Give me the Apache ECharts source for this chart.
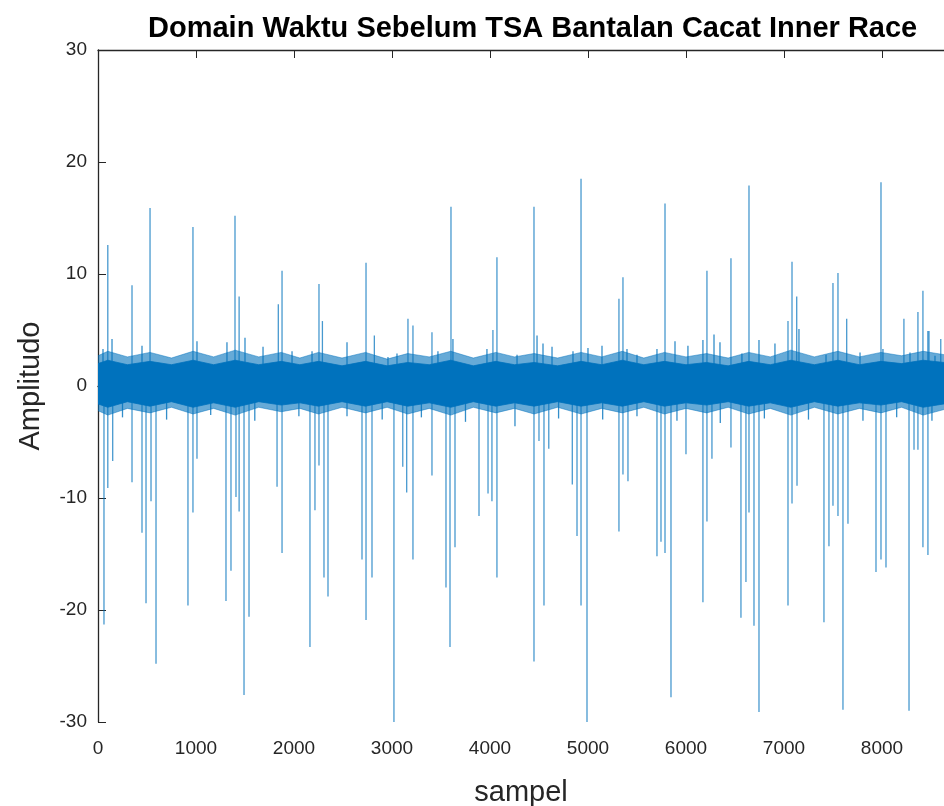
<!DOCTYPE html>
<html>
<head>
<meta charset="utf-8">
<script src="https://cdn.jsdelivr.net/npm/echarts@6/dist/echarts.min.js"></script>
<style>
    html, body { margin: 0; padding: 0; background: #fff; }
    #chart { width: 944px; height: 806px; }
</style>
</head>
<body>
<div id="chart"></div>
<script>
// tick labels
var xTicks = [0, 1000, 2000, 3000, 4000, 5000, 6000, 7000, 8000];
var yTicks = [-30, -20, -10, 0, 10, 20, 30];

// impacts going up (sample, amplitude)
var upX = [100, 347, 531, 969, 1398, 1440, 1878, 1840, 2255, 2290, 2735, 2820, 3163, 3214, 3408, 3602, 4071, 4030,
    4449, 4929, 5357, 5316, 5786, 6214, 6459, 6643, 7082, 7130, 7041, 7551, 7500, 7640, 7990, 8224, 8418, 8367, 8480, 8600];
var upY = [12.6, 9.0, 15.9, 14.2, 15.2, 8.0, 10.3, 7.3, 9.1, 5.8, 11.0, 4.5, 6.0, 5.4, 4.8, 16.0, 11.5, 5.0,
    16.0, 18.5, 9.7, 7.8, 16.3, 10.3, 11.4, 17.9, 11.1, 8.0, 5.8, 10.1, 9.2, 6.0, 18.2, 6.0, 8.5, 6.6, 4.9, 4.2];

// small bursts just above the noise band
var fuzzUpX = [51, 143, 449, 1010, 1316, 1500, 1684, 1980, 2184, 2541, 2959, 3051, 3469, 3622, 3969, 4276, 4480, 4541,
    4633, 4847, 5000, 5143, 5398, 5500, 5704, 5888, 6020, 6173, 6286, 6347, 6571, 6745, 6908, 7153, 7429, 7776, 8010,
    8286, 8469, 8541];
var fuzzUpY = [3.3, 4.2, 3.6, 4.0, 3.9, 4.3, 3.5, 3.1, 3.1, 3.9, 2.6, 2.9, 3.1, 4.2, 3.3, 2.8, 4.5, 3.8,
    3.5, 3.1, 3.4, 3.6, 3.3, 2.8, 3.3, 4.0, 3.6, 4.1, 4.6, 3.9, 2.9, 4.1, 3.8, 5.1, 2.8, 3.0, 3.3,
    3.0, 4.9, 2.7];

// impacts going down
var downX = [61, 100, 150, 347, 449, 490, 541, 592, 918, 969, 1010, 1306, 1357, 1408, 1440, 1490, 1541, 1827, 1878,
    2163, 2214, 2255, 2306, 2347, 2694, 2735, 2796, 3020, 3110, 3150, 3214, 3408, 3551, 3592, 3643, 3888, 3980, 4020,
    4071, 4449, 4500, 4551, 4600, 4840, 4888, 4929, 4990, 5316, 5357, 5408, 5704, 5745, 5786, 5847, 6000, 6173, 6214,
    6265, 6459, 6561, 6612, 6643, 6694, 6745, 7041, 7082, 7133, 7408, 7459, 7500, 7551, 7602, 7653, 7939, 7990, 8041,
    8276, 8327, 8367, 8418, 8469];
var downY = [-21.3, -9.1, -6.7, -8.6, -13.1, -19.4, -10.3, -24.8, -19.6, -11.3, -6.5, -19.2, -16.5, -9.9, -11.2, -27.6, -20.6, -9.0, -14.9,
    -23.3, -11.1, -7.1, -17.1, -18.8, -15.5, -20.9, -17.1, -31, -7.2, -9.5, -15.5, -8.0, -18.0, -23.3, -14.4, -11.6, -9.6, -10.3,
    -17.1, -24.6, -4.9, -19.6, -5.6, -8.8, -13.4, -19.6, -31, -13.0, -7.9, -8.5, -15.2, -13.9, -14.9, -27.8, -6.1, -19.3, -12.1,
    -6.5, -5.5, -20.7, -17.5, -11.3, -21.4, -29.1, -19.6, -10.5, -8.9, -21.1, -14.3, -10.7, -11.6, -28.9, -12.3, -16.6, -15.5, -16.2,
    -29.0, -5.7, -5.7, -14.4, -15.1];

// small bursts just below the noise band
var fuzzDownX = [250, 700, 1150, 1600, 2050, 2541, 2900, 3300, 3750, 4255, 4700, 5150, 5500, 5908, 6350, 6800, 7250, 7806, 8150, 8510];
var fuzzDownY = [-2.8, -3.0, -2.6, -3.1, -2.7, -2.7, -3.0, -2.8, -3.2, -3.6, -2.9, -3.0, -2.7, -3.1, -3.3, -2.9, -3.0, -3.1, -2.8, -3.1];

// noise band envelope
var envX = [0, 100, 300, 530, 750, 970, 1180, 1400, 1640, 1870, 2060, 2250, 2490, 2730, 2950, 3160, 3380, 3600, 3830, 4060,
    4250, 4450, 4690, 4930, 5140, 5350, 5570, 5780, 6000, 6210, 6430, 6640, 6860, 7070, 7310, 7550, 7770, 7990, 8200, 8420, 8633];
var outerUp = [2.7, 3.1, 2.6, 3.0, 2.5, 3.1, 2.6, 3.2, 2.6, 3.0, 2.5, 3.0, 2.5, 3.0, 2.4, 2.9, 2.6, 3.1, 2.5, 3.0,
    2.6, 2.9, 2.5, 3.0, 2.6, 3.1, 2.5, 3.0, 2.6, 2.9, 2.5, 3.0, 2.6, 3.2, 2.6, 3.1, 2.6, 3.0, 2.7, 3.1, 2.8];
var outerDown = [-2.2, -2.6, -2.0, -2.4, -1.9, -2.5, -2.0, -2.6, -1.9, -2.3, -2.0, -2.5, -1.9, -2.4, -1.9, -2.5, -2.0, -2.6, -1.9, -2.4,
    -2.0, -2.5, -1.9, -2.5, -2.0, -2.4, -1.9, -2.5, -2.0, -2.4, -1.9, -2.5, -2.0, -2.6, -1.9, -2.5, -2.0, -2.4, -1.9, -2.6, -2.1];
var coreUp = [2.0, 2.3, 1.9, 2.2, 1.9, 2.3, 1.9, 2.3, 1.9, 2.2, 1.9, 2.2, 1.8, 2.2, 1.8, 2.1, 1.9, 2.3, 1.8, 2.2,
    1.9, 2.1, 1.8, 2.2, 1.9, 2.3, 1.9, 2.2, 1.9, 2.1, 1.8, 2.2, 1.9, 2.3, 1.9, 2.3, 1.9, 2.2, 2.0, 2.3, 2.1];
var coreDown = [-1.6, -1.9, -1.4, -1.8, -1.4, -1.9, -1.5, -1.9, -1.4, -1.7, -1.5, -1.8, -1.4, -1.8, -1.4, -1.8, -1.5, -1.9, -1.4, -1.8,
    -1.5, -1.8, -1.4, -1.8, -1.5, -1.8, -1.4, -1.8, -1.5, -1.7, -1.4, -1.8, -1.5, -1.9, -1.4, -1.8, -1.5, -1.7, -1.4, -1.9, -1.6];

function pairs(xs, ys) {
    var out = [];
    for (var i = 0; i < xs.length; i++) out.push([xs[i], ys[i]]);
    return out;
}

var blue = '#0072BD';
var txt = '#262626';
var font = 'Liberation Sans, Arial, sans-serif';

var spikes = pairs(upX, upY).concat(pairs(downX, downY));
var fuzz = pairs(fuzzUpX, fuzzUpY).concat(pairs(fuzzDownX, fuzzDownY));

function band(name, xs, ys, color, op) {
    return {
        name: name,
        type: 'line',
        data: pairs(xs, ys),
        symbol: 'none',
        lineStyle: { width: 0.8, color: color, opacity: op },
        areaStyle: { color: color, opacity: op, origin: 0 },
        z: 3
    };
}

var chart = echarts.init(document.getElementById('chart'));
var option = {
    animation: false,
    backgroundColor: '#fff',
    title: {
        text: 'Domain Waktu Sebelum TSA Bantalan Cacat Inner Race',
        left: 143,
        top: 9,
        textStyle: { fontFamily: font, fontSize: 29, fontWeight: 'bold', color: '#000' }
    },
    grid: { left: 98, top: 50, right: 0, bottom: 84, outerBoundsMode: 'none', containLabel: false },
    xAxis: [{
        type: 'value',
        min: 0,
        max: 8633,
        interval: 1000,
        name: 'sampel',
        nameLocation: 'middle',
        nameGap: 56,
        nameTextStyle: { fontFamily: font, fontSize: 29, color: txt },
        axisLine: { lineStyle: { color: txt, width: 1.3 } },
        axisTick: { inside: true, length: 8, lineStyle: { color: txt } },
        axisLabel: { fontFamily: font, fontSize: 19, color: txt, margin: 17, showMaxLabel: false,
            formatter: function (v) { return xTicks.indexOf(v) >= 0 ? String(v) : ''; } },
        splitLine: { show: false }
    }, {
        type: 'value',
        position: 'top',
        min: 0,
        max: 8633,
        interval: 1000,
        axisLine: { lineStyle: { color: txt, width: 1.3 } },
        axisTick: { inside: true, length: 8, lineStyle: { color: txt } },
        axisLabel: { show: false },
        splitLine: { show: false }
    }],
    yAxis: {
        type: 'value',
        min: yTicks[0],
        max: yTicks[yTicks.length - 1],
        interval: 10,
        name: 'Amplitudo',
        nameLocation: 'middle',
        nameGap: 53,
        nameTextStyle: { fontFamily: font, fontSize: 29, color: txt },
        axisLine: { show: true, lineStyle: { color: txt, width: 1.3 } },
        axisTick: { show: true, inside: true, length: 8, lineStyle: { color: txt } },
        axisLabel: { fontFamily: font, fontSize: 19, color: txt, margin: 11 },
        splitLine: { show: false }
    },
    series: [
        {
            name: 'impacts',
            type: 'bar',
            data: spikes,
            barWidth: 1.3,
            itemStyle: { color: 'rgba(0,114,189,0.72)' },
            z: 2
        },
        {
            name: 'fuzz',
            type: 'bar',
            data: fuzz,
            barWidth: 1.3,
            barGap: '-100%',
            itemStyle: { color: 'rgba(0,114,189,0.8)' },
            z: 2
        },
        band('outerUp', envX, outerUp, blue, 0.6),
        band('outerDown', envX, outerDown, blue, 0.6),
        band('coreUp', envX, coreUp, blue, 1),
        band('coreDown', envX, coreDown, blue, 1)
    ]
};
chart.setOption(option, true);
</script>
</body>
</html>
